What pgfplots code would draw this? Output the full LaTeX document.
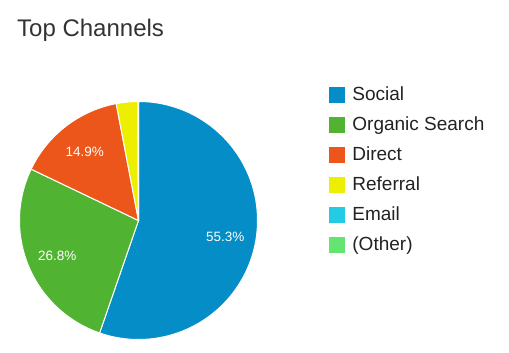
\documentclass[border=0pt]{standalone}
\usepackage{pgfplots}
\pgfplotsset{compat=1.18}
\usepackage{pgfplotstable}
\usepackage{fontspec}
\setmainfont{Liberation Sans}
\definecolor{cSocial}{HTML}{058DC7}
\definecolor{cOrganic}{HTML}{50B432}
\definecolor{cDirect}{HTML}{ED561B}
\definecolor{cReferral}{HTML}{EDEF00}
\definecolor{cEmail}{HTML}{24CBE5}
\definecolor{cOther}{HTML}{64E572}
\definecolor{titlegray}{HTML}{333333}
\definecolor{legendgray}{HTML}{222222}

\pgfplotstableread[col sep=comma]{
label,value,color
Social,55.3,cSocial
Organic Search,26.8,cOrganic
Direct,14.9,cDirect
Referral,2.9,cReferral
Email,0.06,cEmail
(Other),0.04,cOther
}\piedata

\newcommand\labelfont{\fontsize{13.5bp}{16bp}\selectfont}
\def\pieslices{}
\def\pielabels{}
\def\curang{90}
\pgfplotstablegetrowsof{\piedata}
\pgfmathtruncatemacro\lastrow{\pgfplotsretval-1}
\pgfplotsforeachungrouped \i in {0,...,\lastrow}{%
  \pgfplotstablegetelem{\i}{value}\of\piedata \let\val\pgfplotsretval
  \pgfplotstablegetelem{\i}{color}\of\piedata \let\col\pgfplotsretval
  \pgfmathsetmacro\endang{\curang-3.6*\val}%
  \pgfmathsetmacro\midang{(\curang+\endang)/2}%
  \edef\pieslices{\unexpanded\expandafter{\pieslices}%
    \noexpand\fill[\col, draw=white, line width=1bp, line join=round] (axis cs:138.5,220.5) -- ++(\curang:119bp) arc[start angle=\curang, end angle=\endang, radius=119bp] -- cycle;}%
  \pgfmathtruncatemacro\showlab{\val>5}%
  \ifnum\showlab=1
    \edef\pielabels{\unexpanded\expandafter{\pielabels}%
      \noexpand\path (axis cs:138.5,222) ++(\midang:88bp) node[text=white, inner sep=0pt, font=\noexpand\labelfont] {\val\noexpand\%};}%
  \fi
  \let\curang\endang
}

\begin{document}
\begin{tikzpicture}
\begin{axis}[
  scale only axis, width=509bp, height=353bp,
  xmin=0, xmax=509, ymin=0, ymax=353, y dir=reverse,
  hide axis, clip=false,
  title={Top Channels},
  title style={at={(axis description cs:0.0334,0.8810)}, anchor=base west,
    font=\fontsize{24bp}{28bp}\selectfont, text=titlegray, inner sep=0pt},
  legend style={at={(axis cs:329,80)}, anchor=north west, draw=none, fill=none,
    font=\fontsize{19bp}{23bp}\selectfont, text=legendgray,
    inner sep=0pt, outer sep=0pt, cells={anchor=west},
    nodes={inner sep=0pt, text height=20bp, text depth=10bp},
    /tikz/every odd column/.append style={column sep=8bp}},
  legend image code/.code={\fill[#1] (0bp,-7.5bp) rectangle (15bp,7.5bp);},
  legend entries={Social, Organic Search, Direct, Referral, Email, (Other)},
]
\addlegendimage{cSocial}
\addlegendimage{cOrganic}
\addlegendimage{cDirect}
\addlegendimage{cReferral}
\addlegendimage{cEmail}
\addlegendimage{cOther}
\pieslices
\pielabels
\end{axis}
\pgfresetboundingbox
\path[use as bounding box] (current axis.south west) rectangle (current axis.north east);
\end{tikzpicture}
\end{document}
